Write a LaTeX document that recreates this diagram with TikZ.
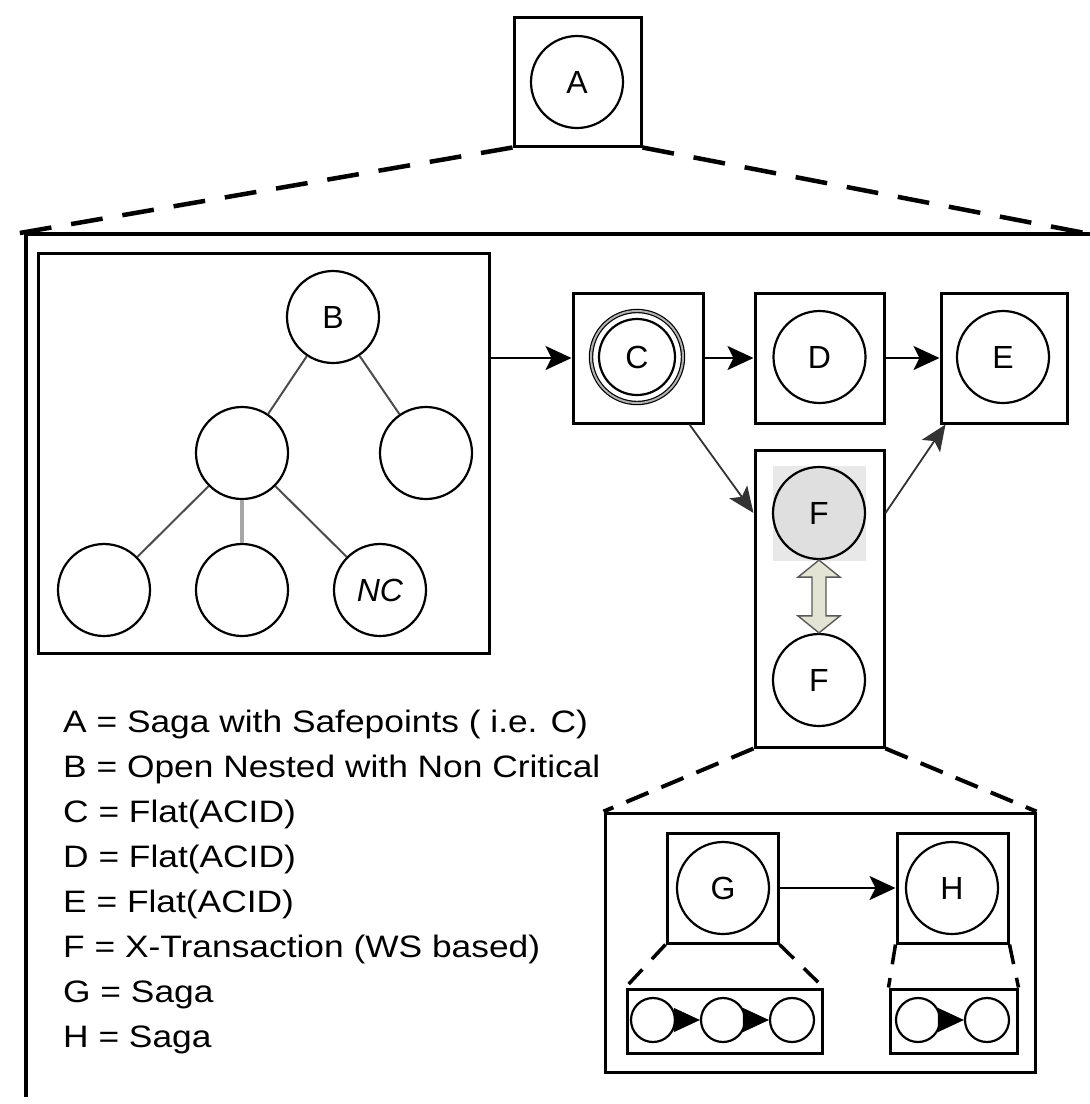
\documentclass[tikz,border=0pt]{standalone}
\usepackage{fontspec}
\setmainfont{Liberation Sans}
\newfontfamily\legendfont{Liberation Sans}[FakeStretch=1.14]
\usetikzlibrary{arrows.meta,calc}

\tikzset{
  txn/.style={circle,draw,line width=2.2pt,minimum size=92pt,inner sep=0pt,font=\fontsize{32}{32}\selectfont},
  subtxn/.style={circle,draw,line width=2.2pt,minimum size=44pt,inner sep=0pt},
  tbox/.style={draw,line width=3pt,inner sep=0pt},
  flow/.style={line width=2.4pt,-{Stealth[length=26pt,width=24pt,inset=6pt]}},
  thinflow/.style={line width=1.8pt,gray!40!black,-{Stealth[length=26pt,width=22pt,inset=6pt]}},
  subflow/.style={line width=1pt,-{Triangle[length=26pt,width=24pt]}},
  treeline/.style={line width=2pt,gray!60!black},
  zoomA/.style={line width=4.5pt,dash pattern=on 32pt off 20pt},
  zoomF/.style={line width=4pt,dash pattern=on 24pt off 14pt},
  zoomG/.style={line width=3.5pt,dash pattern=on 20pt off 14pt},
  dbl/.style={line width=1.4pt,draw=gray!70!black,fill={rgb,255:red,228;green,228;blue,212}},
  legend/.style={anchor=base west,inner sep=0pt,font=\legendfont\fontsize{31}{31}\selectfont}
}

\begin{document}
\begin{tikzpicture}[x=1pt,y=-1pt]
  \useasboundingbox (0,0) rectangle (1090,1104);

  % top level saga
  \node[tbox,minimum width=127pt,minimum height=129pt] (boxA) at (577.5,81.5) {};
  \node[txn] (A) at (577,82) {A};

  % outer frame
  \coordinate (frameNW) at (26,234);
  \coordinate (frameNE) at (1090,234);
  \coordinate (frameSW) at (26,1097);
  \draw[line width=3.4pt] (frameNE) -- (frameNW) -- (frameSW);
  \draw[zoomA] (boxA.south west) -- ([xshift=-12pt]frameNW);
  \draw[zoomA] (boxA.south east) -- (frameNE);

  % open nested transaction
  \node[tbox,minimum width=451pt,minimum height=400pt] (boxB) at (263.5,453) {};
  \node[txn] (B) at (333,317) {B};
  \node[txn] (B1) at (242,453) {};
  \node[txn] (B2) at (426,453) {};
  \node[txn] (B3) at (104,590) {};
  \node[txn] (B4) at (242,590) {};
  \node[txn,font=\fontsize{32}{32}\selectfont\itshape] (NC) at (380,590) {NC};
  \draw[treeline] (B) -- (B1);
  \draw[treeline] (B) -- (B2);
  \draw[treeline] (B1) -- (B3);
  \draw[line width=4pt,gray!70] (B1) -- (B4);
  \draw[treeline] (B1) -- (NC);

  % flat transactions
  \node[tbox,minimum width=130pt,minimum height=130pt] (boxC) at (638,358) {};
  \node[txn,double=gray!60,double distance=2pt,line width=1.2pt] (C) at (637,357) {};
  \draw[line width=2.2pt] (C.center) circle (38pt);
  \node[font=\fontsize{32}{32}\selectfont] (Clabel) at (C) {C};
  \node[tbox,minimum width=129pt,minimum height=130pt] (boxD) at (819.5,358) {};
  \node[txn] (D) at (819.5,357) {D};
  \node[tbox,minimum width=126pt,minimum height=130pt] (boxE) at (1004,358) {};
  \node[txn] (E) at (1003,357) {E};

  % x-transaction
  \node[tbox,minimum width=129pt,minimum height=297pt] (boxF) at (819.5,598.5) {};
  \fill[gray!18] (773,466) rectangle (866,561);
  \node[txn,fill=gray!25] (F1) at (819,513) {F};
  \node[txn] (F2) at (819,680) {F};
  \draw[dbl] (F1.south) -- ++(21,17) -- ++(-14,0) -- ($(F2.north)+(7,-17)$) -- ++(14,0)
    -- (F2.north) -- ++(-21,-17) -- ++(14,0) -- ($(F1.south)+(-7,17)$) -- ++(-14,0) -- cycle;

  \draw[flow] (boxB.east |- boxC.west) -- (boxC.west);
  \draw[flow] (boxC.east) -- (boxD.west);
  \draw[flow] (boxD.east) -- (boxE.west);
  \draw[thinflow] ([xshift=-15pt]boxC.south east) -- (boxF.west |- F1);
  \draw[thinflow] (boxF.east |- F1) -- ([xshift=6pt]boxE.south west);

  % sagas inside F
  \node[tbox,minimum width=430pt,minimum height=259pt] (boxGH) at (820,942.5) {};
  \draw[zoomF] (boxF.south west) -- (boxGH.north west);
  \draw[zoomF] (boxF.south east) -- (boxGH.north east);

  \node[tbox,minimum width=111pt,minimum height=110pt] (boxG) at (722.5,888) {};
  \node[txn] (G) at (723,888) {G};
  \node[tbox,minimum width=111pt,minimum height=110pt] (boxH) at (952.5,888) {};
  \node[txn] (H) at (952,888) {H};
  \draw[flow] (boxG.east) -- (boxH.west);

  \node[tbox,minimum width=195pt,minimum height=64pt] (subG) at (724.5,1021) {};
  \node[subtxn] (g1) at (653,1020) {};
  \node[subtxn] (g2) at (723,1020) {};
  \node[subtxn] (g3) at (792,1020) {};
  \draw[subflow] (g1.east) -- (g2.west);
  \draw[subflow] (g2.east) -- (g3.west);
  \draw[zoomG] (boxG.south west) -- (subG.north west);
  \draw[zoomG] (boxG.south east) -- (subG.north east);

  \node[tbox,minimum width=127pt,minimum height=64pt] (subH) at (953.5,1021) {};
  \node[subtxn] (h1) at (918,1020) {};
  \node[subtxn] (h2) at (987,1020) {};
  \draw[subflow] (h1.east) -- (h2.west);
  \draw[zoomG] (boxH.south west) -- (subH.north west);
  \draw[zoomG] (boxH.south east) -- (subH.north east);

  % legend
  \foreach \txt [count=\i] in {{A = Saga with Safepoints ( i.e. C)},
      {B = Open Nested with Non Critical},{C = Flat(ACID)},{D = Flat(ACID)},
      {E = Flat(ACID)},{F = X-Transaction (WS based)},{G = Saga},{H = Saga}}
    \node[legend] (leg\i) at (63,{732+45*(\i-1)}) {\txt};
\end{tikzpicture}
\end{document}
